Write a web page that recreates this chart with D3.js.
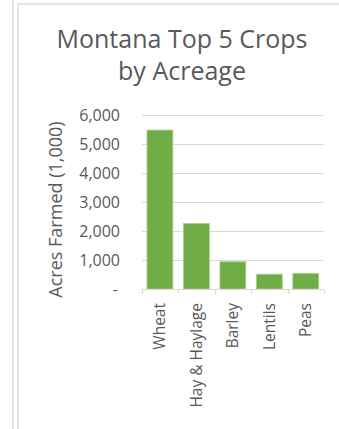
<!DOCTYPE html>
<html>
<head>
<meta charset="utf-8">
<script src="https://cdn.jsdelivr.net/npm/d3@7"></script>
<style>
  html, body { margin: 0; padding: 0; background: #fff; }
  svg { display: block; }
  text { font-family: "Open Sans", "Liberation Sans", sans-serif; }
</style>
</head>
<body>
<svg id="chart" width="339" height="429"></svg>
<script>
// Montana's five largest crops by planted area, thousands of acres
const crops = ["Wheat", "Hay & Haylage", "Barley", "Lentils", "Peas"];
const acres = [5480, 2260, 940, 510, 540];
const yTicks = [0, 1000, 2000, 3000, 4000, 5000, 6000];
const titleLines = ["Montana Top 5 Crops", "by Acreage"];
const yTitle = "Acres Farmed (1,000)";

const svg = d3.select("#chart");
const textColor = "#595959";

// neighbouring panel edge and card frame
svg.append("rect").attr("x", 12).attr("y", -2).attr("width", 2).attr("height", 440)
  .attr("fill", "#e3e3e3");
svg.append("rect").attr("x", 18).attr("y", 4).attr("width", 340).attr("height", 440)
  .attr("fill", "#fff").attr("stroke", "#e0e0e0").attr("stroke-width", 1.6);

const plot = { left: 141.7, right: 324, top: 115, bottom: 289 };

const x = d3.scaleBand().domain(crops).range([plot.left, plot.right])
  .paddingInner(0.29).paddingOuter(0.145);
const y = d3.scaleLinear().domain([0, 6000]).range([plot.bottom, plot.top]);

// title
svg.append("text")
  .attr("x", 182).attr("y", 48)
  .attr("text-anchor", "middle").attr("fill", textColor)
  .attr("font-size", 25)
  .selectAll("tspan").data(titleLines).join("tspan")
  .attr("x", 182).attr("dy", (d, i) => i ? 32 : 0)
  .text(d => d);

// horizontal gridlines
svg.append("g")
  .selectAll("line").data(yTicks.filter(d => d > 0)).join("line")
  .attr("x1", plot.left).attr("x2", plot.right)
  .attr("y1", d => Math.round(y(d)) + 0.5).attr("y2", d => Math.round(y(d)) + 0.5)
  .attr("stroke", "#d9d9d9").attr("stroke-width", 1);

// y axis labels (accounting style: zero shown as a dash)
const yAxis = d3.axisLeft(y).tickValues(yTicks).tickSize(0).tickPadding(0)
  .tickFormat(d => d === 0 ? "-" : d3.format(",")(d));
const gy = svg.append("g").attr("transform", "translate(120,0)").call(yAxis);
gy.select(".domain").remove();
gy.selectAll("text").attr("fill", textColor).attr("font-size", 16)
  .attr("font-family", "\"Open Sans\", sans-serif")
  .attr("dy", "0.35em")
  .attr("dx", d => d === 0 ? -2 : 0);

// y axis title
svg.append("text")
  .attr("transform", `translate(62,209.5) rotate(-90)`)
  .attr("text-anchor", "middle").attr("fill", textColor)
  .attr("font-size", 18)
  .text(yTitle);

// bars
svg.append("g")
  .selectAll("rect").data(crops).join("rect")
  .attr("x", d => x(d))
  .attr("width", x.bandwidth())
  .attr("y", (d, i) => y(acres[i]))
  .attr("height", (d, i) => plot.bottom - y(acres[i]))
  .attr("fill", "#70ad47")
  .attr("stroke", "#a9d18e").attr("stroke-width", 0.8);

// category axis
const xAxis = d3.axisBottom(x).tickSize(0).tickPadding(0);
const gx = svg.append("g").attr("transform", `translate(0,${plot.bottom})`).call(xAxis);
gx.select(".domain").remove();
gx.selectAll(".tick line").remove();
gx.append("line")
  .attr("x1", plot.left).attr("x2", plot.right).attr("y1", 0.5).attr("y2", 0.5)
  .attr("stroke", "#d9d9d9");
const bounds = d3.range(crops.length + 1).map(i => plot.left + i * (plot.right - plot.left) / crops.length);
gx.append("g").selectAll("line").data(bounds).join("line")
  .attr("x1", d => Math.round(d) + 0.5).attr("x2", d => Math.round(d) + 0.5)
  .attr("y1", 0).attr("y2", 5)
  .attr("stroke", "#d9d9d9");
gx.selectAll(".tick text")
  .attr("fill", textColor).attr("font-size", 15.5)
  .attr("font-family", "\"Open Sans\", sans-serif")
  .attr("text-anchor", "end")
  .attr("transform", "translate(0,14) rotate(-90)")
  .attr("x", 0).attr("y", 0).attr("dy", "0.35em");
</script>
</body>
</html>
